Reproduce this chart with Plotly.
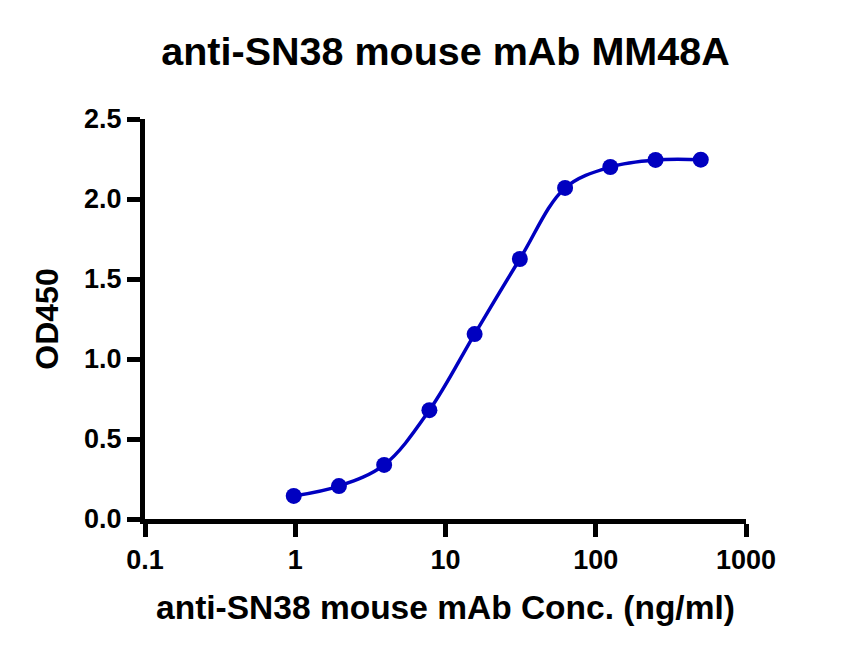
import plotly.graph_objects as go

# antibody concentration (ng/ml) and mean OD450
conc = [0.977, 1.953, 3.906, 7.813, 15.625, 31.25, 62.5, 125, 250, 500]
od450 = [0.144, 0.206, 0.338, 0.680, 1.156, 1.625, 2.069, 2.200, 2.244, 2.246]

x_ticks = [0.1, 1, 10, 100, 1000]
x_tick_labels = ['0.1', '1', '10', '100', '1000']
y_ticks = [0.0, 0.5, 1.0, 1.5, 2.0, 2.5]
y_tick_labels = ['0.0', '0.5', '1.0', '1.5', '2.0', '2.5']

blue = '#0000C0'
font_family = 'Liberation Sans, Arial, sans-serif'

fig = go.Figure()

# smooth fit line through the points
fig.add_trace(go.Scatter(
    x=conc,
    y=od450,
    mode='lines',
    line=dict(color=blue, width=3.5, shape='spline', smoothing=1.0),
    hoverinfo='skip',
    showlegend=False
))

fig.add_trace(go.Scatter(
    x=conc,
    y=od450,
    mode='markers',
    marker=dict(color=blue, size=16),
    name='MM48A',
    showlegend=False
))

fig.update_layout(
    width=842,
    height=661,
    paper_bgcolor='white',
    plot_bgcolor='white',
    margin=dict(l=137, r=104, t=111, b=150),
    font=dict(family=font_family, color='black', size=27, weight='bold'),
    title=dict(
        text='anti-SN38 mouse mAb MM48A',
        x=0.5,
        xref='paper',
        xanchor='center',
        y=0.935,
        yanchor='middle',
        font=dict(size=39.5, weight='bold', family=font_family)
    ),
    xaxis=dict(
        type='log',
        range=[-1, 3],
        tickvals=x_ticks,
        ticktext=x_tick_labels,
        showgrid=False,
        zeroline=False,
        showline=True,
        linecolor='black',
        linewidth=5,
        ticks='outside',
        ticklen=13,
        tickwidth=5,
        tickcolor='black',
        tickfont=dict(size=27, weight='bold'),
        title=dict(text='anti-SN38 mouse mAb Conc. (ng/ml)',
                   font=dict(size=33.5, weight='bold'), standoff=23)
    ),
    yaxis=dict(
        range=[0, 2.5],
        tickvals=y_ticks,
        ticktext=y_tick_labels,
        showgrid=False,
        zeroline=False,
        showline=True,
        linecolor='black',
        linewidth=5,
        ticks='outside',
        ticklen=13,
        tickwidth=5,
        tickcolor='black',
        tickfont=dict(size=27, weight='bold'),
        title=dict(text='OD450', font=dict(size=32, weight='bold'), standoff=17)
    )
)

fig.write_html("out.html")
